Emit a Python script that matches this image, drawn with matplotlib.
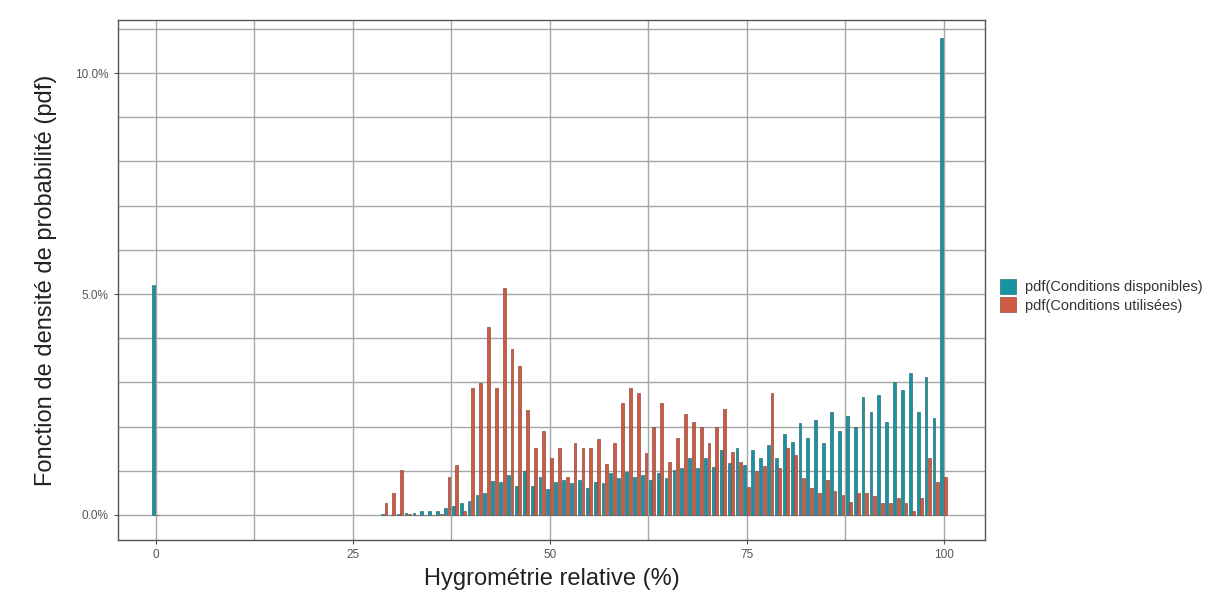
import matplotlib.pyplot as plt
import numpy as np
from matplotlib.ticker import PercentFormatter, MultipleLocator

plt.rcParams['font.family'] = ['Liberation Sans', 'DejaVu Sans']

# relative humidity classes (%), only non-empty ones
hr = [0] + list(range(29, 101))

# pdf values in %
pdf_dispo = [5.2,
             0.02, 0.0, 0.03, 0.04, 0.05, 0.1, 0.1, 0.08, 0.15, 0.2, 0.28,
             0.32, 0.45, 0.5, 0.78, 0.75, 0.9, 0.65, 1.0, 0.66, 0.85,
             0.58, 0.75, 0.8, 0.72, 0.79, 0.6, 0.75, 0.72, 0.94, 0.83,
             0.98, 0.87, 0.9, 0.79, 0.94, 0.83, 1.02, 1.06, 1.28, 1.06,
             1.28, 1.09, 1.47, 1.17, 1.51, 1.13, 1.47, 1.28, 1.58, 1.3,
             1.83, 1.66, 2.08, 1.74, 2.14, 1.62, 2.34, 1.89, 2.23, 2.0,
             2.66, 2.34, 2.72, 2.11, 3.02, 2.83, 3.21, 2.34, 3.13, 2.19,
             10.8]
pdf_util = [0.0,
            0.26, 0.49, 1.02, 0.03, 0.0, 0.0, 0.0, 0.02, 0.87, 1.13, 0.1,
            2.87, 2.98, 4.26, 2.87, 5.13, 3.75, 3.37, 2.38, 1.51, 1.89,
            1.28, 1.51, 0.87, 1.64, 1.51, 1.52, 1.73, 1.15, 1.64, 2.53,
            2.87, 2.77, 1.40, 2.0, 2.53, 1.2, 1.74, 2.28, 2.10, 2.0,
            1.62, 2.0, 2.39, 1.43, 1.2, 0.64, 1.0, 1.1, 2.77, 1.06,
            1.51, 1.36, 0.83, 0.6, 0.49, 0.8, 0.55, 0.45, 0.3, 0.5,
            0.49, 0.42, 0.26, 0.26, 0.38, 0.26, 0.08, 0.38, 1.28, 0.75,
            0.87]

labels = ["pdf(Conditions disponibles)", "pdf(Conditions utilisées)"]
col_dispo = "#1893a4"
col_util = "#d15a42"

x = np.array(hr)
off = 0.225
w = 0.36

fig = plt.figure(figsize=(12.15, 5.91), dpi=100)
ax = fig.add_axes([0.097, 0.086, 0.714, 0.880])

ax.bar(x - off, np.array(pdf_dispo)/100, width=w, color=col_dispo,
       edgecolor="#2f6e76", linewidth=0.5, label=labels[0], zorder=3)
ax.bar(x + off, np.array(pdf_util)/100, width=w, color=col_util,
       edgecolor="#8c4c40", linewidth=0.5, label=labels[1], zorder=3)

ax.set_xlim(-4.8, 105.3)
ax.set_ylim(-0.0057, 0.112)

ax.xaxis.set_major_locator(MultipleLocator(25))
ax.xaxis.set_minor_locator(MultipleLocator(12.5))
ax.yaxis.set_major_locator(MultipleLocator(0.05))
ax.yaxis.set_minor_locator(MultipleLocator(0.01))
ax.yaxis.set_major_formatter(PercentFormatter(1.0, decimals=1))

ax.grid(True, which="both", color="#a6a6a6", linewidth=1.0, zorder=0)
ax.set_axisbelow(True)
for s in ax.spines.values():
    s.set_color("#555555")
    s.set_linewidth(1.0)

ax.tick_params(which="major", length=3, color="#555555", labelsize=8.5,
               labelcolor="#555555")
ax.tick_params(which="minor", length=0)

ax.set_xlabel("Hygrométrie relative (%)", fontsize=17, color="#222222", labelpad=5)
ax.set_ylabel("Fonction de densité de probabilité (pdf)", fontsize=17,
              color="#222222", labelpad=13)

leg = ax.legend(loc="center left", bbox_to_anchor=(1.0, 0.47), frameon=False,
                fontsize=10.5, handlelength=1.1, handleheight=1.2,
                handletextpad=0.6, labelspacing=0.2, borderaxespad=0.6)
for t in leg.get_texts():
    t.set_color("#333333")

fig.savefig("out.png", dpi=100)
